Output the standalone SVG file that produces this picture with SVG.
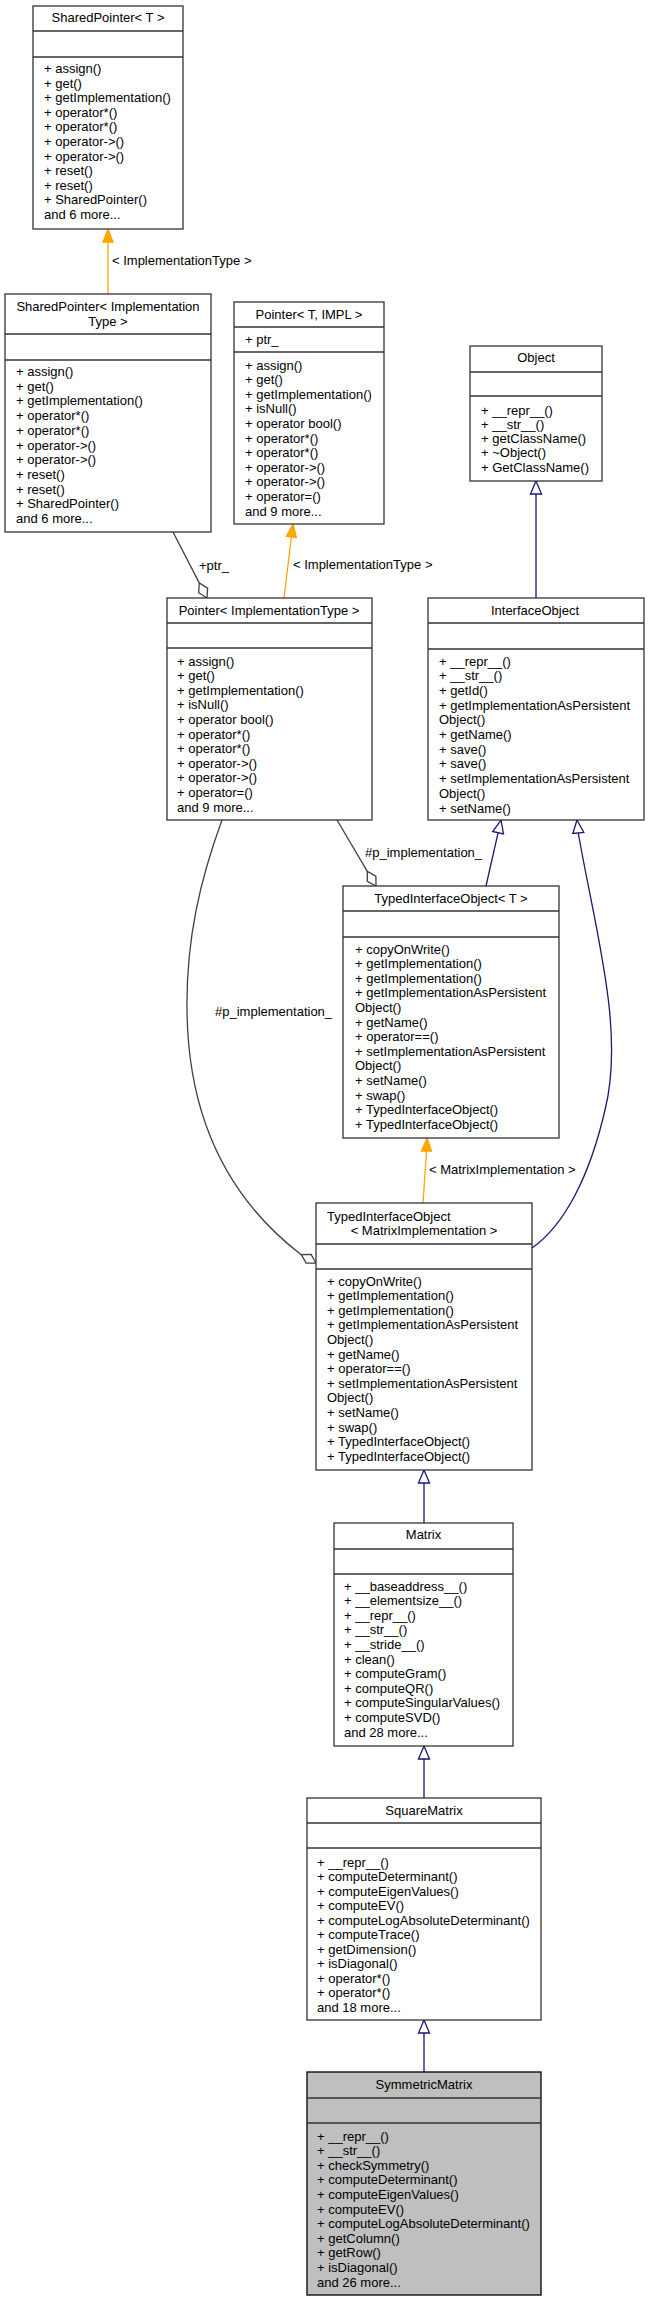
<svg xmlns="http://www.w3.org/2000/svg" width="649" height="2301" viewBox="0 0 649 2301">
<style>
text{font-family:"Liberation Sans",Arial,sans-serif;font-size:13px;fill:#000}
.c{text-anchor:middle}
.box{fill:#fff;stroke:#333;stroke-width:1.3}
.sel{fill:#bfbfbf;stroke:#000;stroke-width:1.3}
.dv{stroke:#333;stroke-width:1.3}
.inh{fill:none;stroke:#191970;stroke-width:1.3}
.inhh{fill:#fff;stroke:#191970;stroke-width:1.3}
.tpl{fill:none;stroke:#ffa500;stroke-width:1.3}
.tplh{fill:#ffa500;stroke:#ffa500;stroke-width:1.3}
.use{fill:none;stroke:#404040;stroke-width:1.3}
.useh{fill:#fff;stroke:#404040;stroke-width:1.3}
</style>
<rect width="649" height="2301" fill="#fff"/>
<g id="connectors">
<line class="tpl" x1="108" y1="242" x2="108" y2="294"/>
<polygon class="tplh" points="108,229 113,242 103,242"/>
<text x="112" y="265">&lt; ImplementationType &gt;</text>
<line class="tpl" x1="291.4" y1="537" x2="284" y2="598"/>
<polygon class="tplh" points="293,524 296.4,537.5 286.4,536.3"/>
<text x="293" y="569">&lt; ImplementationType &gt;</text>
<line class="use" x1="173" y1="532" x2="199.2" y2="582.9"/>
<polygon class="useh" points="207,598 198.7,592.7 199.2,582.9 207.6,588.1"/>
<text x="199" y="570">+ptr_</text>
<line class="inh" x1="536" y1="494" x2="536" y2="598"/>
<polygon class="inhh" points="536,481 541.5,494 530.5,494"/>
<line class="inh" x1="498.1" y1="832.7" x2="486" y2="886"/>
<polygon class="inhh" points="501,820 503.5,833.9 492.7,831.5"/>
<path class="inh" d="M578.3,833 C595,930 625,1030 605,1110 C590,1175 565,1225 532,1248"/>
<polygon class="inhh" points="577,820 583.8,832.4 572.8,833.5"/>
<line class="use" x1="337" y1="820" x2="367.3" y2="871.4"/>
<polygon class="useh" points="376,886 367.3,881.3 367.3,871.4 375.9,876.1"/>
<text x="365" y="857">#p_implementation_</text>
<path class="use" d="M222,820 C200,880 186,940 187,1010 C188,1120 230,1200 301.2,1254.7"/>
<polygon class="useh" points="316,1263 306.2,1263.2 301.2,1254.7 311.1,1254.5"/>
<text x="215" y="1016">#p_implementation_</text>
<line class="tpl" x1="426.5" y1="1151" x2="423" y2="1203"/>
<polygon class="tplh" points="427,1138 431.5,1151 421.5,1151"/>
<text x="429" y="1174">&lt; MatrixImplementation &gt;</text>
<line class="inh" x1="424" y1="1483" x2="424" y2="1523"/>
<polygon class="inhh" points="424,1470 429.5,1483 418.5,1483"/>
<line class="inh" x1="424" y1="1759" x2="424" y2="1798"/>
<polygon class="inhh" points="424,1746 429.5,1759 418.5,1759"/>
<line class="inh" x1="424" y1="2033" x2="424" y2="2072"/>
<polygon class="inhh" points="424,2020 429.5,2033 418.5,2033"/>
</g>
<g id="SharedPointerT">
<rect class="box" x="33" y="6" width="150" height="223"/>
<line class="dv" x1="33" y1="31" x2="183" y2="31"/>
<line class="dv" x1="33" y1="57" x2="183" y2="57"/>
<text class="c" x="108" y="22">SharedPointer&lt; T &gt;</text>
<text x="44" y="73">+ assign()</text>
<text x="44" y="87.6">+ get()</text>
<text x="44" y="102.2">+ getImplementation()</text>
<text x="44" y="116.8">+ operator*()</text>
<text x="44" y="131.4">+ operator*()</text>
<text x="44" y="146">+ operator-&gt;()</text>
<text x="44" y="160.6">+ operator-&gt;()</text>
<text x="44" y="175.2">+ reset()</text>
<text x="44" y="189.8">+ reset()</text>
<text x="44" y="204.4">+ SharedPointer()</text>
<text x="44" y="219">and 6 more...</text>
</g>
<g id="SharedPointerImpl">
<rect class="box" x="5" y="294" width="206" height="238"/>
<line class="dv" x1="5" y1="334" x2="211" y2="334"/>
<line class="dv" x1="5" y1="360" x2="211" y2="360"/>
<text class="c" x="108" y="311">SharedPointer&lt; Implementation</text>
<text class="c" x="108" y="325.5">Type &gt;</text>
<text x="16" y="376">+ assign()</text>
<text x="16" y="390.7">+ get()</text>
<text x="16" y="405.4">+ getImplementation()</text>
<text x="16" y="420.1">+ operator*()</text>
<text x="16" y="434.8">+ operator*()</text>
<text x="16" y="449.5">+ operator-&gt;()</text>
<text x="16" y="464.2">+ operator-&gt;()</text>
<text x="16" y="478.9">+ reset()</text>
<text x="16" y="493.6">+ reset()</text>
<text x="16" y="508.3">+ SharedPointer()</text>
<text x="16" y="523">and 6 more...</text>
</g>
<g id="PointerTIMPL">
<rect class="box" x="234" y="302" width="150" height="222"/>
<line class="dv" x1="234" y1="327" x2="384" y2="327"/>
<line class="dv" x1="234" y1="352" x2="384" y2="352"/>
<text class="c" x="309" y="318.5">Pointer&lt; T, IMPL &gt;</text>
<text x="245" y="343.5">+ ptr_</text>
<text x="245" y="369.5">+ assign()</text>
<text x="245" y="384.1">+ get()</text>
<text x="245" y="398.7">+ getImplementation()</text>
<text x="245" y="413.3">+ isNull()</text>
<text x="245" y="427.9">+ operator bool()</text>
<text x="245" y="442.5">+ operator*()</text>
<text x="245" y="457.1">+ operator*()</text>
<text x="245" y="471.7">+ operator-&gt;()</text>
<text x="245" y="486.3">+ operator-&gt;()</text>
<text x="245" y="500.9">+ operator=()</text>
<text x="245" y="515.5">and 9 more...</text>
</g>
<g id="Object">
<rect class="box" x="470" y="346" width="132" height="135"/>
<line class="dv" x1="470" y1="372" x2="602" y2="372"/>
<line class="dv" x1="470" y1="396" x2="602" y2="396"/>
<text class="c" x="536" y="362">Object</text>
<text x="481" y="414.5">+ __repr__()</text>
<text x="481" y="428.8">+ __str__()</text>
<text x="481" y="443.1">+ getClassName()</text>
<text x="481" y="457.4">+ ~Object()</text>
<text x="481" y="471.7">+ GetClassName()</text>
</g>
<g id="PointerImpl">
<rect class="box" x="167" y="598" width="205" height="222"/>
<line class="dv" x1="167" y1="623" x2="372" y2="623"/>
<line class="dv" x1="167" y1="648" x2="372" y2="648"/>
<text class="c" x="269" y="614.5">Pointer&lt; ImplementationType &gt;</text>
<text x="177" y="665.5">+ assign()</text>
<text x="177" y="680.1">+ get()</text>
<text x="177" y="694.7">+ getImplementation()</text>
<text x="177" y="709.3">+ isNull()</text>
<text x="177" y="723.9">+ operator bool()</text>
<text x="177" y="738.5">+ operator*()</text>
<text x="177" y="753.1">+ operator*()</text>
<text x="177" y="767.7">+ operator-&gt;()</text>
<text x="177" y="782.3">+ operator-&gt;()</text>
<text x="177" y="796.9">+ operator=()</text>
<text x="177" y="811.5">and 9 more...</text>
</g>
<g id="InterfaceObject">
<rect class="box" x="428" y="598" width="216" height="222"/>
<line class="dv" x1="428" y1="623" x2="644" y2="623"/>
<line class="dv" x1="428" y1="649" x2="644" y2="649"/>
<text class="c" x="535" y="614.5">InterfaceObject</text>
<text x="439" y="665.5">+ __repr__()</text>
<text x="439" y="680.2">+ __str__()</text>
<text x="439" y="694.9">+ getId()</text>
<text x="439" y="709.6">+ getImplementationAsPersistent</text>
<text x="439" y="724.3">Object()</text>
<text x="439" y="739">+ getName()</text>
<text x="439" y="753.7">+ save()</text>
<text x="439" y="768.4">+ save()</text>
<text x="439" y="783.1">+ setImplementationAsPersistent</text>
<text x="439" y="797.8">Object()</text>
<text x="439" y="812.5">+ setName()</text>
</g>
<g id="TypedInterfaceObjectT">
<rect class="box" x="343" y="886" width="216" height="252"/>
<line class="dv" x1="343" y1="911" x2="559" y2="911"/>
<line class="dv" x1="343" y1="937" x2="559" y2="937"/>
<text class="c" x="451" y="902.5">TypedInterfaceObject&lt; T &gt;</text>
<text x="355" y="953.5">+ copyOnWrite()</text>
<text x="355" y="968.1">+ getImplementation()</text>
<text x="355" y="982.7">+ getImplementation()</text>
<text x="355" y="997.3">+ getImplementationAsPersistent</text>
<text x="355" y="1011.9">Object()</text>
<text x="355" y="1026.5">+ getName()</text>
<text x="355" y="1041.1">+ operator==()</text>
<text x="355" y="1055.7">+ setImplementationAsPersistent</text>
<text x="355" y="1070.3">Object()</text>
<text x="355" y="1084.9">+ setName()</text>
<text x="355" y="1099.5">+ swap()</text>
<text x="355" y="1114.1">+ TypedInterfaceObject()</text>
<text x="355" y="1128.7">+ TypedInterfaceObject()</text>
</g>
<g id="TypedInterfaceObjectMatrixImpl">
<rect class="box" x="316" y="1203" width="216" height="267"/>
<line class="dv" x1="316" y1="1244" x2="532" y2="1244"/>
<line class="dv" x1="316" y1="1269" x2="532" y2="1269"/>
<text x="327" y="1220.5">TypedInterfaceObject</text>
<text class="c" x="424" y="1235">&lt; MatrixImplementation &gt;</text>
<text x="327" y="1285.5">+ copyOnWrite()</text>
<text x="327" y="1300.1">+ getImplementation()</text>
<text x="327" y="1314.7">+ getImplementation()</text>
<text x="327" y="1329.3">+ getImplementationAsPersistent</text>
<text x="327" y="1343.9">Object()</text>
<text x="327" y="1358.5">+ getName()</text>
<text x="327" y="1373.1">+ operator==()</text>
<text x="327" y="1387.7">+ setImplementationAsPersistent</text>
<text x="327" y="1402.3">Object()</text>
<text x="327" y="1416.9">+ setName()</text>
<text x="327" y="1431.5">+ swap()</text>
<text x="327" y="1446.1">+ TypedInterfaceObject()</text>
<text x="327" y="1460.7">+ TypedInterfaceObject()</text>
</g>
<g id="Matrix">
<rect class="box" x="334" y="1523" width="179" height="223"/>
<line class="dv" x1="334" y1="1549" x2="513" y2="1549"/>
<line class="dv" x1="334" y1="1574" x2="513" y2="1574"/>
<text class="c" x="423.5" y="1538.5">Matrix</text>
<text x="344" y="1590.5">+ __baseaddress__()</text>
<text x="344" y="1605.1">+ __elementsize__()</text>
<text x="344" y="1619.7">+ __repr__()</text>
<text x="344" y="1634.3">+ __str__()</text>
<text x="344" y="1648.9">+ __stride__()</text>
<text x="344" y="1663.5">+ clean()</text>
<text x="344" y="1678.1">+ computeGram()</text>
<text x="344" y="1692.7">+ computeQR()</text>
<text x="344" y="1707.3">+ computeSingularValues()</text>
<text x="344" y="1721.9">+ computeSVD()</text>
<text x="344" y="1736.5">and 28 more...</text>
</g>
<g id="SquareMatrix">
<rect class="box" x="307" y="1798" width="234" height="222"/>
<line class="dv" x1="307" y1="1823" x2="541" y2="1823"/>
<line class="dv" x1="307" y1="1848" x2="541" y2="1848"/>
<text class="c" x="424" y="1814.5">SquareMatrix</text>
<text x="317" y="1866.5">+ __repr__()</text>
<text x="317" y="1881">+ computeDeterminant()</text>
<text x="317" y="1895.5">+ computeEigenValues()</text>
<text x="317" y="1910">+ computeEV()</text>
<text x="317" y="1924.5">+ computeLogAbsoluteDeterminant()</text>
<text x="317" y="1939">+ computeTrace()</text>
<text x="317" y="1953.5">+ getDimension()</text>
<text x="317" y="1968">+ isDiagonal()</text>
<text x="317" y="1982.5">+ operator*()</text>
<text x="317" y="1997">+ operator*()</text>
<text x="317" y="2011.5">and 18 more...</text>
</g>
<g id="SymmetricMatrix">
<rect class="sel" x="307" y="2072" width="234" height="223"/>
<line class="dv" x1="307" y1="2098" x2="541" y2="2098"/>
<line class="dv" x1="307" y1="2123" x2="541" y2="2123"/>
<text class="c" x="424" y="2088.5">SymmetricMatrix</text>
<text x="317" y="2140.5">+ __repr__()</text>
<text x="317" y="2155.1">+ __str__()</text>
<text x="317" y="2169.7">+ checkSymmetry()</text>
<text x="317" y="2184.3">+ computeDeterminant()</text>
<text x="317" y="2198.9">+ computeEigenValues()</text>
<text x="317" y="2213.5">+ computeEV()</text>
<text x="317" y="2228.1">+ computeLogAbsoluteDeterminant()</text>
<text x="317" y="2242.7">+ getColumn()</text>
<text x="317" y="2257.3">+ getRow()</text>
<text x="317" y="2271.9">+ isDiagonal()</text>
<text x="317" y="2286.5">and 26 more...</text>
</g>
</svg>
